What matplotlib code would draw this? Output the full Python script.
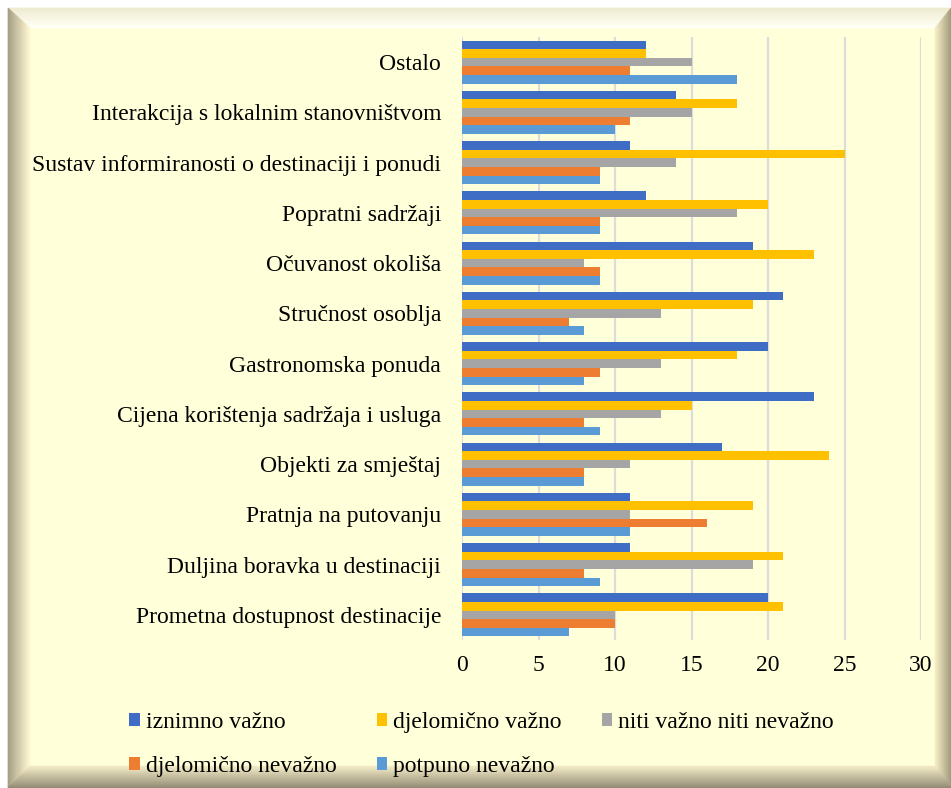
import matplotlib.pyplot as plt
import numpy as np
from matplotlib.patches import Polygon

plt.rcParams['font.family'] = ['Liberation Serif', 'DejaVu Serif']

categories = ['Ostalo',
              'Interakcija s lokalnim stanovništvom',
              'Sustav informiranosti o destinaciji i ponudi',
              'Popratni sadržaji',
              'Očuvanost okoliša',
              'Stručnost osoblja',
              'Gastronomska ponuda',
              'Cijena korištenja sadržaja i usluga',
              'Objekti za smještaj',
              'Pratnja na putovanju',
              'Duljina boravka u destinaciji',
              'Prometna dostupnost destinacije']

series_names = ['iznimno važno', 'djelomično važno', 'niti važno niti nevažno',
                'djelomično nevažno', 'potpuno nevažno']

iznimno_vazno = [12, 14, 11, 12, 19, 21, 20, 23, 17, 11, 11, 20]
djelomicno_vazno = [12, 18, 25, 20, 23, 19, 18, 15, 24, 19, 21, 21]
niti_niti = [15, 15, 14, 18, 8, 13, 13, 13, 11, 11, 19, 10]
djelomicno_nevazno = [11, 11, 9, 9, 9, 7, 9, 8, 8, 16, 8, 10]
potpuno_nevazno = [18, 10, 9, 9, 9, 8, 8, 9, 8, 11, 9, 7]

colors = ['#3F6CC4', '#FFC000', '#A5A5A5', '#ED7D31', '#5B9BD5']
bg_yellow = '#FFFFD9'

W, H = 951, 788
fig = plt.figure(figsize=(W / 100, H / 100), dpi=100)
fig.patch.set_facecolor('white')

# background frame with bevel
bg = fig.add_axes([0, 0, 1, 1])
bg.set_xlim(0, W)
bg.set_ylim(H, 0)
bg.axis('off')

x0, y0, x1, y1 = 8, 8, 951, 788
wl, wt, wr, wb = 22, 20, 16, 22
bg.add_patch(Polygon([(x0, y0), (x1, y0), (x1, y1), (x0, y1)], closed=True,
                     facecolor=bg_yellow, edgecolor='none'))


def mix(c_out, c_in, t):
    a = np.array(plt.matplotlib.colors.to_rgb(c_out))
    b = np.array(plt.matplotlib.colors.to_rgb(c_in))
    return tuple(a + (b - a) * t)


n = 20
sides = {
    'top': ('#EFEBD0', '#FFFFF6'),
    'left': ('#A39B82', '#FFF8D2'),
    'right': ('#A0977C', '#F6EFC6'),
    'bottom': ('#8F8872', '#F3EBC6'),
}
for k in range(n):
    t0, t1 = k / n, (k + 1) / n
    pts = {
        'top': [(x0 + t0 * wl, y0 + t0 * wt), (x1 - t0 * wr, y0 + t0 * wt),
                (x1 - t1 * wr, y0 + t1 * wt), (x0 + t1 * wl, y0 + t1 * wt)],
        'left': [(x0 + t0 * wl, y0 + t0 * wt), (x0 + t1 * wl, y0 + t1 * wt),
                 (x0 + t1 * wl, y1 - t1 * wb), (x0 + t0 * wl, y1 - t0 * wb)],
        'right': [(x1 - t0 * wr, y0 + t0 * wt), (x1 - t1 * wr, y0 + t1 * wt),
                  (x1 - t1 * wr, y1 - t1 * wb), (x1 - t0 * wr, y1 - t0 * wb)],
        'bottom': [(x0 + t0 * wl, y1 - t0 * wb), (x1 - t0 * wr, y1 - t0 * wb),
                   (x1 - t1 * wr, y1 - t1 * wb), (x0 + t1 * wl, y1 - t1 * wb)],
    }
    for side, (c_out, c_in) in sides.items():
        c = mix(c_out, c_in, (t0 + t1) / 2)
        bg.add_patch(Polygon(pts[side], closed=True, facecolor=c, edgecolor=c, linewidth=0.5))

# main chart
ax_l, ax_r, ax_t, ax_b = 462, 921, 37, 640
ax = fig.add_axes([ax_l / W, 1 - ax_b / H, (ax_r - ax_l) / W, (ax_b - ax_t) / H])
ax.set_facecolor('none')

data = [iznimno_vazno, djelomicno_vazno, niti_niti, djelomicno_nevazno, potpuno_nevazno]
y = np.arange(len(categories))
h = 0.172
for i, (name, vals) in enumerate(zip(series_names, data)):
    ax.barh(y + (i - 2) * h, vals, height=h, color=colors[i], label=name, zorder=3)

ax.set_ylim(len(categories) - 0.5, -0.5)
ax.set_xlim(0, 30)
ax.set_xticks(range(0, 31, 5))
ax.set_yticks(y)
ax.set_yticklabels(categories)
ax.tick_params(axis='both', length=0, labelsize=17)
ax.tick_params(axis='y', pad=15)
ax.tick_params(axis='x', pad=11)
ax.grid(axis='x', color='#DCDCDC', linewidth=1.6, zorder=0)
for s in ax.spines.values():
    s.set_visible(False)

# legend fills row by row in the reference
handles, labels = ax.get_legend_handles_labels()
order = [0, 3, 1, 4, 2]
leg = fig.legend([handles[i] for i in order], [labels[i] for i in order],
                 ncol=3, loc='upper left',
                 bbox_to_anchor=(108 / W, 1 - 691 / H), frameon=False,
                 fontsize=17, handlelength=0.45, handleheight=0.45,
                 handletextpad=0.25, columnspacing=1.7, labelspacing=0.95)

fig.savefig('out.png', dpi=100, facecolor='white')
